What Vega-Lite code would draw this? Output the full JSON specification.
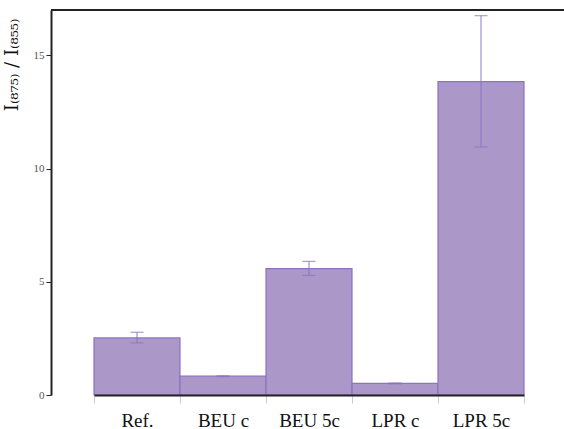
{
  "$schema": "https://vega.github.io/schema/vega-lite/v6.json",
  "width": 513,
  "height": 385,
  "autosize": {"type": "none"},
  "padding": {"left": 51, "top": 10, "right": 0, "bottom": 34},
  "background": "white",
  "config": {
    "view": {"stroke": null},
    "font": "Liberation Serif"
  },
  "data": {
    "values": [
      {"sample": "Ref.", "ratio": 2.52, "low": 2.30, "high": 2.77},
      {"sample": "BEU c", "ratio": 0.83, "low": 0.81, "high": 0.85},
      {"sample": "BEU 5c", "ratio": 5.58, "low": 5.28, "high": 5.90},
      {"sample": "LPR c", "ratio": 0.51, "low": 0.49, "high": 0.53},
      {"sample": "LPR 5c", "ratio": 13.84, "low": 10.95, "high": 16.75}
    ]
  },
  "encoding": {
    "x": {
      "field": "sample",
      "type": "nominal",
      "sort": null,
      "scale": {"paddingInner": 0, "paddingOuter": 0, "range": [43, 473]},
      "axis": {
        "title": null,
        "zindex": 1,
        "labelAngle": 0,
        "labelFont": "Liberation Serif",
        "labelFontSize": 19,
        "labelColor": "#111111",
        "labelPadding": 8,
        "tickBand": "extent",
        "tickColor": "#cccccc",
        "tickSize": 8,
        "tickWidth": 1,
        "domainColor": "#222222",
        "domainWidth": 2
      }
    }
  },
  "layer": [
    {
      "mark": {"type": "bar", "fill": "#ab98c8", "stroke": "#8a72c4", "strokeWidth": 1.2},
      "encoding": {
        "y": {
          "field": "ratio",
          "type": "quantitative",
          "scale": {"domain": [0, 17], "nice": false},
          "axis": {
            "values": [0, 5, 10, 15],
            "grid": false,
            "zindex": 1,
            "title": "I₍₈₇₅₎ / I₍₈₅₅₎",
            "titleFont": "DejaVu Serif",
            "titleFontSize": 18,
            "titleFontWeight": "normal",
            "titleColor": "#111111",
            "titleAnchor": "end",
            "titleY": 8,
            "titlePadding": 12,
            "labelFont": "Liberation Serif",
            "labelFontSize": 11,
            "labelColor": "#555555",
            "labelPadding": 2,
            "tickColor": "#222222",
            "tickSize": 5,
            "domainColor": "#222222",
            "domainWidth": 2
          }
        }
      }
    },
    {
      "mark": {"type": "rule", "color": "#8a72c4", "strokeWidth": 1.2, "opacity": 0.8},
      "encoding": {
        "y": {"field": "low", "type": "quantitative"},
        "y2": {"field": "high"}
      }
    },
    {
      "mark": {"type": "tick", "orient": "horizontal", "size": 13, "thickness": 1.2, "color": "#8a72c4"},
      "encoding": {"y": {"field": "low", "type": "quantitative"}}
    },
    {
      "mark": {"type": "tick", "orient": "horizontal", "size": 13, "thickness": 1.2, "color": "#8a72c4"},
      "encoding": {"y": {"field": "high", "type": "quantitative"}}
    },
    {
      "data": {"values": [{"top": 17}]},
      "mark": {"type": "rule", "color": "#222222", "strokeWidth": 2},
      "encoding": {"x": null, "y": {"field": "top", "type": "quantitative"}}
    }
  ]
}
